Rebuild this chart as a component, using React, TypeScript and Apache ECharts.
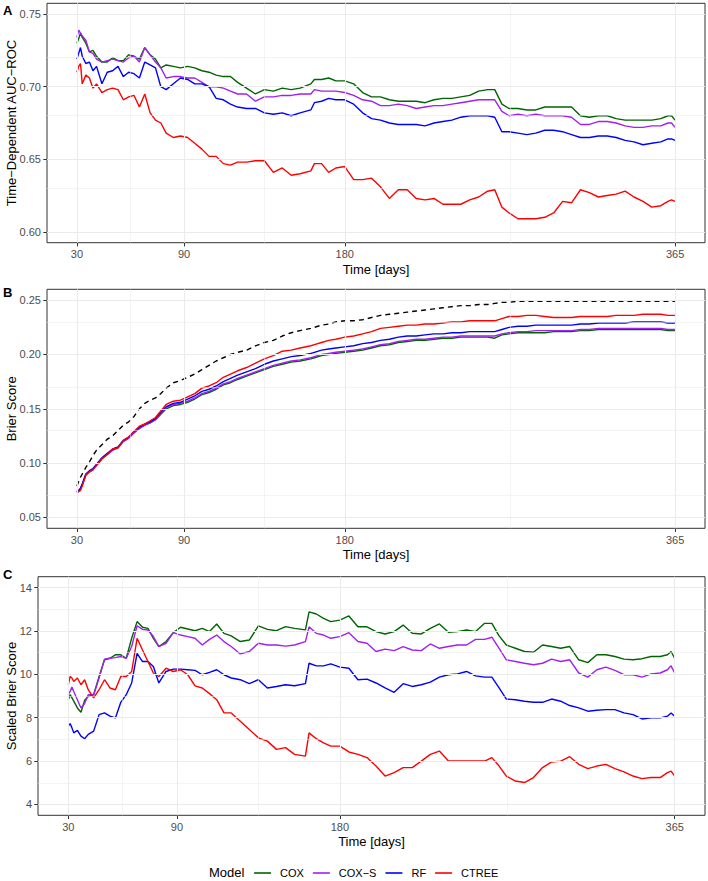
import { useEffect, useRef } from "react";
import * as echarts from "echarts";

const days = [
  30, 31, 32, 33, 35, 37, 39, 41, 44, 47,
  50, 53, 56, 59, 62, 65, 68, 71, 74, 77,
  80, 84, 88, 92, 96, 100, 104, 108, 112, 116,
  120, 125, 130, 135, 140, 145, 150, 155, 161, 163,
  167, 171, 175, 180, 185, 190, 195, 200, 205, 210,
  215, 220, 225, 230, 235, 240, 245, 250, 255, 260,
  264, 268, 272, 277, 282, 287, 292, 297, 302, 307,
  312, 317, 322, 327, 332, 337, 342, 347, 352, 357,
  361, 363, 365,
];

const models = ["COX", "COX\u2212S", "RF", "CTREE"];
const modelColors = ["#006400", "#A020F0", "#0000FF", "#FF0000"];

const xTicks = [30, 90, 180, 365];
const xMinor = [60, 135, 272.5];
const aucTicks = [0.6, 0.65, 0.7, 0.75];
const aucMinor = [0.625, 0.675, 0.725];
const brierTicks = [0.05, 0.1, 0.15, 0.2, 0.25];
const brierMinor = [0.075, 0.125, 0.175, 0.225];
const sbsTicks = [4, 6, 8, 10, 12, 14];
const sbsMinor = [5, 7, 9, 11, 13];

// Panel A: time-dependent AUC-ROC
const aucCox = [
  0.730, 0.733, 0.737, 0.734, 0.730, 0.724, 0.725, 0.721, 0.717, 0.717,
  0.720, 0.718, 0.718, 0.722, 0.721, 0.719, 0.727, 0.722, 0.719, 0.713,
  0.715, 0.714, 0.713, 0.714, 0.713, 0.711, 0.710, 0.708, 0.707, 0.707,
  0.703, 0.699, 0.695, 0.698, 0.697, 0.699, 0.698, 0.699, 0.702, 0.705,
  0.705, 0.706, 0.704, 0.704, 0.702, 0.696, 0.693, 0.693, 0.691, 0.690,
  0.690, 0.690, 0.689, 0.691, 0.692, 0.692, 0.693, 0.694, 0.697, 0.698,
  0.698, 0.688, 0.685, 0.685, 0.684, 0.684, 0.686, 0.686, 0.686, 0.686,
  0.680, 0.679, 0.680, 0.680, 0.678, 0.677, 0.677, 0.677, 0.677, 0.678,
  0.680, 0.680, 0.677,
];
const aucCoxS = [
  0.734, 0.739, 0.737, 0.735, 0.732, 0.724, 0.723, 0.719, 0.717, 0.718,
  0.719, 0.718, 0.717, 0.720, 0.721, 0.717, 0.727, 0.722, 0.717, 0.713,
  0.706, 0.707, 0.707, 0.706, 0.706, 0.703, 0.700, 0.700, 0.699, 0.697,
  0.695, 0.695, 0.690, 0.693, 0.693, 0.694, 0.694, 0.695, 0.695, 0.698,
  0.697, 0.697, 0.697, 0.696, 0.694, 0.691, 0.690, 0.687, 0.687, 0.688,
  0.687, 0.685, 0.686, 0.687, 0.687, 0.688, 0.689, 0.690, 0.691, 0.691,
  0.691, 0.683, 0.680, 0.681, 0.680, 0.681, 0.680, 0.680, 0.680, 0.679,
  0.674, 0.674, 0.676, 0.676, 0.675, 0.673, 0.672, 0.672, 0.673, 0.673,
  0.675, 0.675, 0.672,
];
const aucRf = [
  0.719, 0.723, 0.727, 0.721, 0.716, 0.717, 0.711, 0.714, 0.702, 0.710,
  0.711, 0.714, 0.707, 0.710, 0.709, 0.706, 0.717, 0.715, 0.713, 0.700,
  0.698, 0.702, 0.706, 0.705, 0.702, 0.702, 0.700, 0.692, 0.691, 0.688,
  0.686, 0.685, 0.685, 0.682, 0.681, 0.682, 0.680, 0.682, 0.684, 0.689,
  0.690, 0.692, 0.691, 0.691, 0.688, 0.682, 0.678, 0.677, 0.675, 0.674,
  0.674, 0.674, 0.673, 0.675, 0.676, 0.677, 0.679, 0.680, 0.680, 0.680,
  0.679, 0.669, 0.669, 0.668, 0.667, 0.668, 0.670, 0.670, 0.669, 0.667,
  0.665, 0.665, 0.666, 0.666, 0.665, 0.663, 0.662, 0.660, 0.661, 0.662,
  0.664, 0.664, 0.663,
];
const aucCtree = [
  0.710, 0.714, 0.716, 0.702, 0.708, 0.706, 0.699, 0.702, 0.696, 0.698,
  0.699, 0.698, 0.691, 0.693, 0.694, 0.686, 0.695, 0.682, 0.677, 0.675,
  0.668, 0.665, 0.666, 0.665, 0.661, 0.657, 0.652, 0.652, 0.647, 0.646,
  0.648, 0.648, 0.649, 0.649, 0.641, 0.644, 0.639, 0.640, 0.642, 0.647,
  0.647, 0.641, 0.644, 0.645, 0.636, 0.636, 0.637, 0.631, 0.623, 0.629,
  0.629, 0.623, 0.622, 0.623, 0.619, 0.619, 0.619, 0.622, 0.624, 0.628,
  0.629, 0.617, 0.613, 0.609, 0.609, 0.609, 0.610, 0.613, 0.621, 0.620,
  0.629, 0.627, 0.624, 0.625, 0.626, 0.628, 0.624, 0.621, 0.617, 0.618,
  0.621, 0.622, 0.621,
];

// Panel B: Brier score (reference = dashed black)
const brierRef = [
  0.079, 0.083, 0.087, 0.090, 0.096, 0.101, 0.107, 0.112, 0.117, 0.122,
  0.125, 0.130, 0.135, 0.138, 0.143, 0.150, 0.155, 0.158, 0.160, 0.164,
  0.169, 0.174, 0.176, 0.179, 0.182, 0.186, 0.190, 0.194, 0.197, 0.200,
  0.202, 0.204, 0.208, 0.211, 0.213, 0.217, 0.220, 0.222, 0.224, 0.225,
  0.227, 0.228, 0.230, 0.231, 0.231, 0.232, 0.234, 0.236, 0.237, 0.238,
  0.239, 0.240, 0.241, 0.242, 0.243, 0.244, 0.245, 0.245, 0.246, 0.246,
  0.247, 0.248, 0.248, 0.249, 0.249, 0.249, 0.249, 0.249, 0.249, 0.249,
  0.249, 0.249, 0.249, 0.249, 0.249, 0.249, 0.249, 0.249, 0.249, 0.249,
  0.249, 0.249, 0.249,
];
const brierCox = [
  0.073, 0.074, 0.076, 0.080, 0.089, 0.092, 0.094, 0.098, 0.104, 0.108,
  0.112, 0.114, 0.120, 0.123, 0.128, 0.132, 0.135, 0.137, 0.140, 0.145,
  0.150, 0.153, 0.154, 0.156, 0.159, 0.163, 0.165, 0.168, 0.172, 0.174,
  0.177, 0.180, 0.183, 0.186, 0.189, 0.191, 0.193, 0.194, 0.196, 0.197,
  0.199, 0.200, 0.201, 0.202, 0.203, 0.204, 0.206, 0.208, 0.209, 0.211,
  0.212, 0.213, 0.213, 0.214, 0.215, 0.215, 0.216, 0.216, 0.216, 0.216,
  0.215, 0.218, 0.219, 0.220, 0.220, 0.220, 0.220, 0.221, 0.221, 0.221,
  0.222, 0.222, 0.223, 0.223, 0.223, 0.223, 0.223, 0.223, 0.223, 0.223,
  0.222, 0.222, 0.222,
];
const brierCoxS = [
  0.073, 0.074, 0.076, 0.080, 0.089, 0.092, 0.094, 0.098, 0.104, 0.108,
  0.112, 0.114, 0.120, 0.123, 0.128, 0.132, 0.135, 0.137, 0.140, 0.146,
  0.151, 0.154, 0.155, 0.157, 0.160, 0.164, 0.166, 0.169, 0.173, 0.175,
  0.178, 0.181, 0.184, 0.187, 0.190, 0.192, 0.194, 0.195, 0.197, 0.198,
  0.200, 0.201, 0.202, 0.203, 0.204, 0.205, 0.207, 0.209, 0.210, 0.212,
  0.213, 0.214, 0.214, 0.215, 0.216, 0.216, 0.217, 0.217, 0.217, 0.217,
  0.217, 0.219, 0.220, 0.221, 0.221, 0.222, 0.222, 0.222, 0.222, 0.222,
  0.223, 0.223, 0.224, 0.224, 0.224, 0.224, 0.224, 0.224, 0.224, 0.224,
  0.223, 0.223, 0.223,
];
const brierRf = [
  0.074, 0.075, 0.077, 0.081, 0.090, 0.093, 0.095, 0.099, 0.105, 0.109,
  0.113, 0.115, 0.121, 0.124, 0.129, 0.133, 0.136, 0.138, 0.141, 0.147,
  0.152, 0.155, 0.156, 0.159, 0.162, 0.166, 0.168, 0.171, 0.175, 0.178,
  0.181, 0.184, 0.187, 0.191, 0.194, 0.196, 0.198, 0.199, 0.201, 0.202,
  0.204, 0.205, 0.206, 0.207, 0.208, 0.210, 0.211, 0.213, 0.214, 0.216,
  0.217, 0.217, 0.218, 0.219, 0.219, 0.220, 0.220, 0.221, 0.221, 0.221,
  0.221, 0.223, 0.225, 0.226, 0.226, 0.227, 0.227, 0.227, 0.227, 0.227,
  0.228, 0.228, 0.229, 0.229, 0.229, 0.229, 0.230, 0.230, 0.230, 0.230,
  0.229, 0.229, 0.229,
];
const brierCtree = [
  0.073, 0.074, 0.075, 0.079, 0.089, 0.092, 0.094, 0.098, 0.104, 0.108,
  0.113, 0.114, 0.121, 0.124, 0.129, 0.134, 0.136, 0.139, 0.142, 0.148,
  0.154, 0.157, 0.158, 0.161, 0.164, 0.169, 0.171, 0.174, 0.179, 0.182,
  0.185, 0.188, 0.192, 0.196, 0.199, 0.203, 0.204, 0.206, 0.208, 0.209,
  0.211, 0.213, 0.214, 0.216, 0.217, 0.219, 0.221, 0.224, 0.225, 0.226,
  0.227, 0.227, 0.228, 0.228, 0.229, 0.230, 0.230, 0.231, 0.231, 0.231,
  0.231, 0.233, 0.235, 0.235, 0.236, 0.236, 0.235, 0.234, 0.234, 0.234,
  0.235, 0.235, 0.235, 0.235, 0.236, 0.236, 0.236, 0.237, 0.237, 0.237,
  0.236, 0.236, 0.236,
];

// Panel C: scaled Brier score
const sbsCox = [
  8.83, 9.06, 8.91, 8.76, 8.45, 8.25, 8.80, 8.98, 9.06, 9.90,
  10.67, 10.74, 10.90, 10.90, 10.74, 11.66, 12.43, 12.17, 12.12, 11.66,
  11.28, 11.51, 11.92, 12.17, 12.09, 12.01, 12.12, 11.97, 12.32, 11.89,
  11.77, 11.51, 11.58, 12.23, 12.07, 12.01, 12.20, 12.12, 12.05, 12.88,
  12.78, 12.58, 12.43, 12.50, 12.69, 12.19, 12.19, 11.97, 11.86, 11.97,
  12.27, 11.89, 11.86, 12.12, 12.32, 11.94, 11.97, 12.04, 11.97, 12.35,
  12.35, 11.77, 11.35, 11.20, 11.05, 11.02, 11.35, 11.28, 11.20, 11.28,
  10.67, 10.54, 10.90, 10.90, 10.82, 10.70, 10.67, 10.72, 10.82, 10.82,
  10.90, 11.05, 10.74,
];
const sbsCoxS = [
  9.06, 9.21, 9.41, 9.21, 8.83, 8.45, 8.65, 9.06, 9.06, 9.83,
  10.70, 10.74, 10.77, 10.82, 10.74, 11.28, 12.24, 12.07, 12.04, 11.74,
  11.28, 11.43, 11.92, 11.81, 11.74, 11.66, 11.35, 11.61, 11.81, 11.51,
  11.28, 10.94, 11.05, 11.43, 11.35, 11.35, 11.30, 11.35, 11.51, 12.19,
  11.89, 11.81, 11.66, 11.74, 11.92, 11.51, 11.43, 11.05, 11.16, 11.09,
  11.28, 11.12, 11.09, 11.40, 11.20, 11.28, 11.35, 11.35, 11.61, 11.61,
  11.71, 11.20, 10.67, 10.59, 10.51, 10.44, 10.51, 10.70, 10.59, 10.67,
  10.06, 9.87, 10.21, 10.33, 10.18, 9.98, 9.98, 9.87, 10.02, 10.06,
  10.21, 10.39, 10.06,
];
const sbsRf = [
  7.61, 7.73, 7.53, 7.30, 7.42, 7.15, 7.03, 7.23, 7.38, 8.14,
  8.22, 8.07, 7.99, 8.71, 9.06, 9.60, 10.97, 10.59, 10.59, 10.36,
  9.60, 10.13, 10.24, 10.24, 10.21, 10.18, 9.98, 10.09, 10.21, 9.98,
  9.83, 9.75, 9.57, 9.75, 9.37, 9.44, 9.52, 9.47, 9.57, 10.51,
  10.39, 10.39, 10.48, 10.33, 10.28, 9.75, 9.78, 9.60, 9.37, 9.17,
  9.57, 9.44, 9.52, 9.64, 9.87, 9.98, 10.02, 10.13, 9.93, 9.87,
  9.87, 9.37, 8.86, 8.83, 8.76, 8.71, 8.71, 8.86, 8.76, 8.56,
  8.45, 8.30, 8.34, 8.37, 8.37, 8.22, 8.14, 7.94, 7.99, 7.99,
  8.07, 8.22, 8.07,
];
const sbsCtree = [
  9.52, 9.90, 9.83, 9.67, 9.83, 9.52, 9.75, 9.29, 8.91, 9.29,
  9.75, 9.37, 9.29, 9.90, 9.90, 10.13, 11.66, 11.12, 10.59, 10.06,
  9.90, 10.28, 10.13, 10.21, 9.98, 9.47, 9.37, 9.11, 8.83, 8.22,
  8.22, 7.84, 7.46, 7.07, 6.92, 6.54, 6.62, 6.31, 6.23, 7.30,
  7.03, 6.84, 6.69, 6.69, 6.42, 6.31, 6.16, 5.77, 5.31, 5.47,
  5.70, 5.70, 6.00, 6.31, 6.46, 6.00, 6.00, 6.00, 6.00, 6.00,
  6.16, 5.77, 5.31, 5.08, 5.01, 5.24, 5.70, 5.96, 6.00, 6.20,
  5.85, 5.65, 5.77, 5.85, 5.65, 5.50, 5.31, 5.19, 5.24, 5.24,
  5.47, 5.54, 5.31,
];

const FONT = "'Liberation Sans', Arial, Helvetica, sans-serif";

function lineSeries(name: string, values: number[], color: string, idx: number, dashed = false) {
  return {
    type: "line",
    name,
    xAxisIndex: idx,
    yAxisIndex: idx,
    data: days.map((d, i) => [d, values[i]]),
    showSymbol: false,
    symbol: "none",
    lineStyle: { color, width: 1.4, type: dashed ? [5, 4] : "solid" },
    itemStyle: { color },
    z: 3,
    silent: true,
    emphasis: { disabled: true },
  };
}

function gridLines(idx: number, yMajor: number[], yMinor: number[]) {
  const major = { color: "#EBEBEB", width: 1.1, type: "solid" };
  const minor = { color: "#EBEBEB", width: 0.55, type: "solid" };
  return {
    type: "line",
    xAxisIndex: idx,
    yAxisIndex: idx,
    data: [],
    silent: true,
    z: 1,
    markLine: {
      silent: true,
      symbol: ["none", "none"],
      label: { show: false },
      animation: false,
      emphasis: { disabled: true },
      data: [
        ...xMinor.map((v) => ({ xAxis: v, lineStyle: minor })),
        ...yMinor.map((v) => ({ yAxis: v, lineStyle: minor })),
        ...xTicks.map((v) => ({ xAxis: v, lineStyle: major })),
        ...yMajor.map((v) => ({ yAxis: v, lineStyle: major })),
      ],
    },
  };
}

function xAxis(idx: number) {
  return {
    type: "value",
    gridIndex: idx,
    min: 13.25,
    max: 381.75,
    axisLine: { show: false },
    axisTick: { show: true, customValues: xTicks, length: 3.7, lineStyle: { color: "#333333", width: 1 } },
    axisLabel: { customValues: xTicks, color: "#4D4D4D", fontSize: 11, margin: 6, fontFamily: FONT },
    splitLine: { show: false },
    name: "Time [days]",
    nameLocation: "middle",
    nameGap: 20,
    nameMoveOverlap: false,
    nameTextStyle: { color: "#000000", fontSize: 13, fontFamily: FONT },
  };
}

function yAxis(idx: number, min: number, max: number, ticks: number[], name: string, gap: number, digits: number) {
  return {
    type: "value",
    gridIndex: idx,
    min,
    max,
    axisLine: { show: false },
    axisTick: { show: true, customValues: ticks, length: 3.7, lineStyle: { color: "#333333", width: 1 } },
    axisLabel: {
      customValues: ticks,
      color: "#4D4D4D",
      fontSize: 11,
      margin: 6,
      fontFamily: FONT,
      formatter: (v: number) => Number(v).toFixed(digits),
    },
    splitLine: { show: false },
    name,
    nameLocation: "middle",
    nameGap: gap,
    nameRotate: 90,
    nameMoveOverlap: false,
    nameTextStyle: { color: "#000000", fontSize: 13, fontFamily: FONT },
  };
}

const gridBase = {
  show: true,
  borderColor: "#333333",
  borderWidth: 1,
  backgroundColor: "transparent",
  containLabel: false,
  outerBoundsMode: "none",
};

export default function App() {
  const ref = useRef<HTMLDivElement>(null);

  useEffect(() => {
    document.body.style.margin = "0";
    if (!ref.current) return;
    const chart = echarts.init(ref.current, null, { renderer: "svg" });

    const tag = (text: string, top: number) => ({
      type: "text",
      left: 3,
      top,
      silent: true,
      style: { text, fontSize: 13, fontWeight: "bold", fontFamily: FONT, fill: "#000000" },
    });

    const option: any = {
      animation: false,
      textStyle: { fontFamily: FONT },
      grid: [
        { ...gridBase, left: 47, top: 3.3, width: 658, height: 239.4 },
        { ...gridBase, left: 47, top: 289.3, width: 658, height: 239 },
        { ...gridBase, left: 38, top: 576.7, width: 667, height: 238.6 },
      ],
      xAxis: [xAxis(0), xAxis(1), xAxis(2)],
      yAxis: [
        yAxis(0, 0.5925, 0.7575, aucTicks, "Time\u2212Dependent AUC\u2212ROC", 29, 2),
        yAxis(1, 0.04, 0.26, brierTicks, "Brier Score", 29, 2),
        yAxis(2, 3.5, 14.5, sbsTicks, "Scaled Brier Score", 20, 0),
      ],
      legend: {
        data: models,
        selectedMode: false,
        left: 254,
        top: 866,
        orient: "horizontal",
        icon: "rect",
        itemWidth: 17,
        itemHeight: 1.6,
        itemGap: 9,
        padding: 0,
        textStyle: { fontSize: 11, color: "#000000", fontFamily: FONT, padding: [0, 0, 0, 4], lineHeight: 14 },
      },
      graphic: [
        tag("A", 3.5),
        tag("B", 285.5),
        tag("C", 567.5),
        {
          type: "text",
          left: 209,
          top: 866,
          silent: true,
          style: { text: "Model", fontSize: 13, fontFamily: FONT, fill: "#000000" },
        },
      ],
      series: [
        gridLines(0, aucTicks, aucMinor),
        gridLines(1, brierTicks, brierMinor),
        gridLines(2, sbsTicks, sbsMinor),
        lineSeries(models[0], aucCox, modelColors[0], 0),
        lineSeries(models[1], aucCoxS, modelColors[1], 0),
        lineSeries(models[2], aucRf, modelColors[2], 0),
        lineSeries(models[3], aucCtree, modelColors[3], 0),
        lineSeries("Reference", brierRef, "#000000", 1, true),
        lineSeries(models[0], brierCox, modelColors[0], 1),
        lineSeries(models[1], brierCoxS, modelColors[1], 1),
        lineSeries(models[2], brierRf, modelColors[2], 1),
        lineSeries(models[3], brierCtree, modelColors[3], 1),
        lineSeries(models[0], sbsCox, modelColors[0], 2),
        lineSeries(models[1], sbsCoxS, modelColors[1], 2),
        lineSeries(models[2], sbsRf, modelColors[2], 2),
        lineSeries(models[3], sbsCtree, modelColors[3], 2),
      ],
    };

    chart.setOption(option);
    return () => chart.dispose();
  }, []);

  return (
    <div
      ref={ref}
      style={{ position: "absolute", left: 0, top: 0, width: 708, height: 881, background: "#ffffff" }}
    />
  );
}
